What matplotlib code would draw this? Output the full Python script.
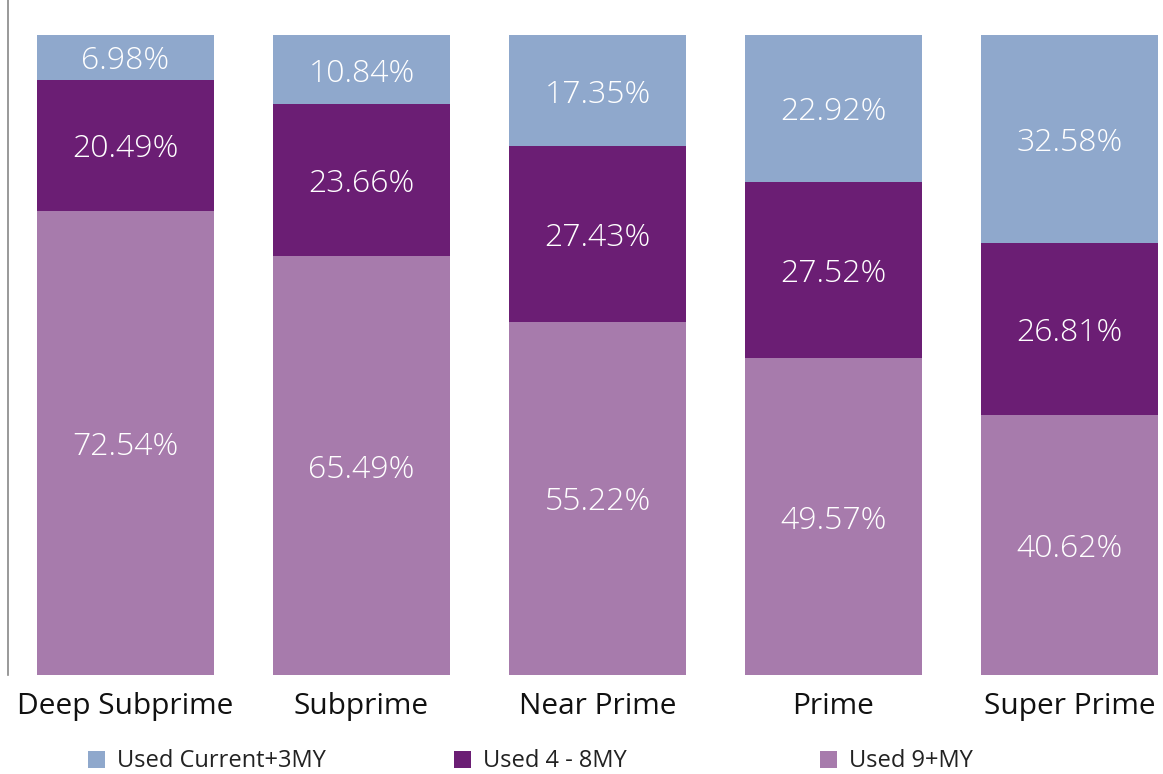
import matplotlib.pyplot as plt
from matplotlib.patches import Rectangle

categories = ["Deep Subprime", "Subprime", "Near Prime", "Prime", "Super Prime"]
used_9_plus = [72.54, 65.49, 55.22, 49.57, 40.62]
used_4_8 = [20.49, 23.66, 27.43, 27.52, 26.81]
used_current_3 = [6.98, 10.84, 17.35, 22.92, 32.58]
series_names = ["Used Current+3MY", "Used 4 - 8MY", "Used 9+MY"]

c_light = "#8FA8CC"
c_dark = "#6B1E74"
c_mauve = "#A77BAC"

plt.rcParams['font.family'] = ['Open Sans', 'DejaVu Sans']

fig = plt.figure(figsize=(11.63, 7.74), dpi=100)
ax = fig.add_axes([8 / 1163, 99 / 774, 1155 / 1163, 675 / 774])

x = list(range(len(categories)))
w = 0.75
bottoms2 = used_9_plus
bottoms3 = [a + b for a, b in zip(used_9_plus, used_4_8)]

ax.bar(x, used_9_plus, width=w, color=c_mauve)
ax.bar(x, used_4_8, width=w, bottom=bottoms2, color=c_dark)
ax.bar(x, used_current_3, width=w, bottom=bottoms3, color=c_light)

for i in x:
    for val, b in [(used_9_plus[i], 0), (used_4_8[i], bottoms2[i]), (used_current_3[i], bottoms3[i])]:
        ax.annotate(f"{val:.2f}%", (i, b + val / 2), xytext=(0, -3),
                    textcoords='offset points', ha='center', va='center',
                    color='white', fontsize=23, fontweight='light')

ax.set_xlim(-0.498, 4.396)
ax.set_ylim(0, 100 + 35 / 6.4)
ax.set_yticks([])
ax.set_xticks(x)
ax.set_xticklabels(categories, fontsize=21.5, color='#111111')
ax.tick_params(axis='x', length=0, pad=12)
for s in ['top', 'right', 'bottom']:
    ax.spines[s].set_visible(False)
ax.spines['left'].set_color('#888888')
ax.spines['left'].set_linewidth(1.2)

# legend
legend_x = [88, 454, 820]
for name, col, lx in zip(series_names, [c_light, c_dark, c_mauve], legend_x):
    fig.patches.append(Rectangle((lx / 1163, (774 - 768) / 774), 17 / 1163, 17 / 774,
                                 transform=fig.transFigure, facecolor=col, edgecolor='none'))
    fig.text((lx + 29) / 1163, (774 - 761) / 774, name, ha='left', va='center',
             fontsize=17, color='#222222')

fig.savefig("out.png", dpi=100)
